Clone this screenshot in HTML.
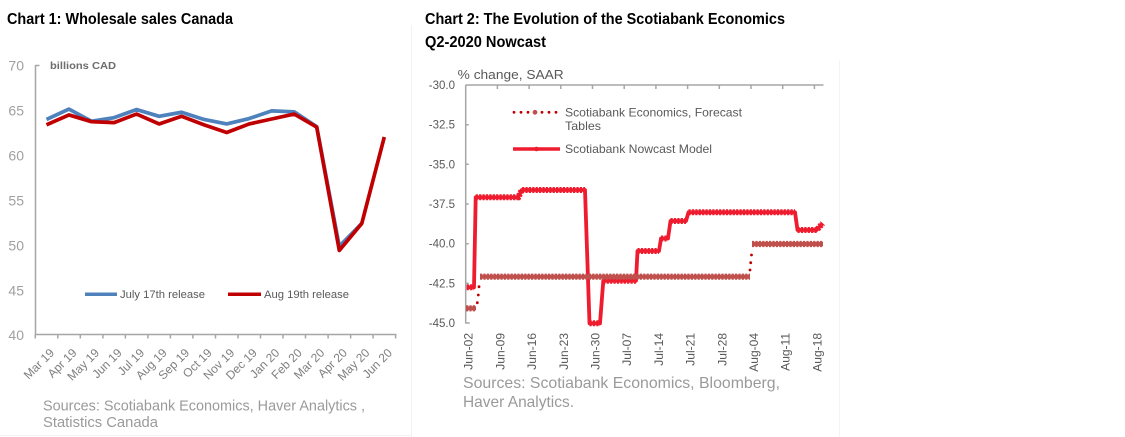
<!DOCTYPE html>
<html><head><meta charset="utf-8"><style>
html,body{margin:0;padding:0;background:#fff;}
svg{display:block;}
text{font-family:"Liberation Sans",Arial,sans-serif;}
</style></head><body>
<svg width="1125" height="437" viewBox="0 0 1125 437" xmlns="http://www.w3.org/2000/svg">
<rect width="1125" height="437" fill="#fff"/>
<!-- faint dividers -->
<line x1="411.5" y1="25" x2="411.5" y2="437" stroke="#f2f2f2" stroke-width="1"/>
<line x1="839.5" y1="60" x2="839.5" y2="437" stroke="#f4f4f4" stroke-width="1"/>
<line x1="0" y1="435.5" x2="411" y2="435.5" stroke="#f2f2f2" stroke-width="1"/>

<!-- ================= CHART 1 ================= -->
<text x="7" y="24" font-size="16" font-weight="bold" fill="#000" textLength="226" lengthAdjust="spacingAndGlyphs">Chart 1: Wholesale sales Canada</text>
<text x="50" y="69" font-size="10" font-weight="bold" fill="#6d6d6d" textLength="66" lengthAdjust="spacingAndGlyphs">billions CAD</text>

<!-- y labels -->
<g font-size="14" fill="#a0a0a0" text-anchor="end">
<text x="24" y="70.5">70</text>
<text x="24" y="115.5">65</text>
<text x="24" y="160.5">60</text>
<text x="24" y="205.5">55</text>
<text x="24" y="250.5">50</text>
<text x="24" y="295.5">45</text>
<text x="24" y="340">40</text>
</g>
<!-- axes -->
<g stroke="#a6a6a6" stroke-width="1.5" fill="none">
<line x1="35.5" y1="65" x2="35.5" y2="335"/>
<line x1="35.5" y1="65.5" x2="39.5" y2="65.5"/>
<line x1="35" y1="334.5" x2="396.5" y2="334.5"/>
<path d="M35.3,334.5v4 M57.8,334.5v4 M80.3,334.5v4 M102.9,334.5v4 M125.4,334.5v4 M147.9,334.5v4 M170.4,334.5v4 M192.9,334.5v4 M215.5,334.5v4 M238,334.5v4 M260.5,334.5v4 M283,334.5v4 M305.5,334.5v4 M328.1,334.5v4 M350.6,334.5v4 M373.1,334.5v4 M395.6,334.5v4"/>
</g>
<!-- x labels -->
<g font-size="12" fill="#7f7f7f" text-anchor="end">
<text transform="translate(55,353.5) rotate(-45)">Mar 19</text>
<text transform="translate(77.5,353.5) rotate(-45)">Apr 19</text>
<text transform="translate(100,353.5) rotate(-45)">May 19</text>
<text transform="translate(122.6,353.5) rotate(-45)">Jun 19</text>
<text transform="translate(145.1,353.5) rotate(-45)">Jul 19</text>
<text transform="translate(167.6,353.5) rotate(-45)">Aug 19</text>
<text transform="translate(190.1,353.5) rotate(-45)">Sep 19</text>
<text transform="translate(212.6,353.5) rotate(-45)">Oct 19</text>
<text transform="translate(235.2,353.5) rotate(-45)">Nov 19</text>
<text transform="translate(257.7,353.5) rotate(-45)">Dec 19</text>
<text transform="translate(280.2,353.5) rotate(-45)">Jan 20</text>
<text transform="translate(302.7,353.5) rotate(-45)">Feb 20</text>
<text transform="translate(325.2,353.5) rotate(-45)">Mar 20</text>
<text transform="translate(347.8,353.5) rotate(-45)">Apr 20</text>
<text transform="translate(370.3,353.5) rotate(-45)">May 20</text>
<text transform="translate(392.8,353.5) rotate(-45)">Jun 20</text>
</g>
<!-- series -->
<polyline fill="none" stroke="#4f81bd" stroke-width="3.7" stroke-linejoin="round" points="46.5,119.45 69,109.1 91.5,121.25 114.1,117.65 136.6,109.55 159.1,116.3 181.6,112.25 204.1,119.45 226.7,123.95 249.2,118.55 271.7,110.9 294.2,111.8 316.7,126.65 339.3,246.35 361.8,223.4"/>
<polyline fill="none" stroke="#c00000" stroke-width="3.7" stroke-linejoin="round" points="46.5,124.85 69,114.95 91.5,121.7 114.1,122.6 136.6,114.05 159.1,123.95 181.6,116.3 204.1,124.85 226.7,132.5 249.2,123.95 271.7,119 294.2,114.05 316.7,127.1 339.3,250.4 361.8,223.4 384.3,137"/>
<!-- legend -->
<line x1="85" y1="294.3" x2="117" y2="294.3" stroke="#4f81bd" stroke-width="3.5"/>
<text x="120" y="298" font-size="11" fill="#595959" textLength="85" lengthAdjust="spacingAndGlyphs">July 17th release</text>
<line x1="228" y1="294.3" x2="261" y2="294.3" stroke="#c00000" stroke-width="3.5"/>
<text x="264" y="298" font-size="11" fill="#595959" textLength="85" lengthAdjust="spacingAndGlyphs">Aug 19th release</text>
<!-- sources -->
<text x="43" y="410.5" font-size="15" fill="#9a9a9a" textLength="322" lengthAdjust="spacingAndGlyphs">Sources: Scotiabank Economics, Haver Analytics ,</text>
<text x="43" y="427" font-size="15" fill="#9a9a9a" textLength="115" lengthAdjust="spacingAndGlyphs">Statistics Canada</text>

<!-- ================= CHART 2 ================= -->
<text x="425" y="24" font-size="16" font-weight="bold" fill="#000" textLength="360" lengthAdjust="spacingAndGlyphs">Chart 2: The Evolution of the Scotiabank Economics</text>
<text x="425" y="47" font-size="16" font-weight="bold" fill="#000" textLength="121" lengthAdjust="spacingAndGlyphs">Q2-2020 Nowcast</text>
<text x="457.7" y="79" font-size="13" fill="#595959" textLength="106" lengthAdjust="spacingAndGlyphs">% change, SAAR</text>

<!-- y labels -->
<g font-size="11.5" fill="#595959" text-anchor="end">
<text x="455" y="89">-30.0</text>
<text x="455" y="128.7">-32.5</text>
<text x="455" y="168.3">-35.0</text>
<text x="455" y="208">-37.5</text>
<text x="455" y="247.7">-40.0</text>
<text x="455" y="287.3">-42.5</text>
<text x="455" y="327">-45.0</text>
</g>
<!-- axes -->
<g stroke="#a6a6a6" stroke-width="1.5" fill="none">
<line x1="465.7" y1="85" x2="465.7" y2="323.5"/>
<line x1="465.7" y1="85" x2="823.5" y2="85"/>
<path d="M465.7,124.7h3 M465.7,164.3h3 M465.7,204h3 M465.7,243.7h3 M465.7,283.3h3 M465.7,323h4"/>
<path d="M497.4,85v4 M529.1,85v4 M560.8,85v4 M592.5,85v4 M624.2,85v4 M655.9,85v4 M687.6,85v4 M719.3,85v4 M751,85v4 M782.7,85v4 M814.4,85v4"/>
</g>
<!-- x labels -->
<g font-size="12" fill="#595959" text-anchor="end">
<text transform="translate(472.7,333) rotate(-90)">Jun-02</text>
<text transform="translate(504.4,333) rotate(-90)">Jun-09</text>
<text transform="translate(536.1,333) rotate(-90)">Jun-16</text>
<text transform="translate(567.8,333) rotate(-90)">Jun-23</text>
<text transform="translate(599.5,333) rotate(-90)">Jun-30</text>
<text transform="translate(631.2,333) rotate(-90)">Jul-07</text>
<text transform="translate(662.9,333) rotate(-90)">Jul-14</text>
<text transform="translate(694.6,333) rotate(-90)">Jul-21</text>
<text transform="translate(726.3,333) rotate(-90)">Jul-28</text>
<text transform="translate(758,333) rotate(-90)">Aug-04</text>
<text transform="translate(789.7,333) rotate(-90)">Aug-11</text>
<text transform="translate(821.4,333) rotate(-90)">Aug-18</text>
</g>

<!-- nowcast series -->
<path d="M466.7,287.3 L474,287.3 L475.7,197.3 L518.3,197.3 L521.7,190 L585,190 L589.5,323.3 L600,323.3 L603.3,280.7 L636,280.7 L637.5,251 L659,251 L661,238.5 L668,238.5 L670.5,221 L686,221 L688.5,212.3 L795,212.3 L797.5,230 L816.7,230 L822.7,223.3" fill="none" stroke="#ee1c2e" stroke-width="3.8" stroke-linejoin="round"/>
<path d="M466.7,287.3 L474,287.3 M475.7,197.3 L518.3,197.3 L521.7,190 L585,190 M589.5,323.3 L600,323.3 M603.3,280.7 L636,280.7 M637.5,251 L659,251 M661,238.5 L668,238.5 M670.5,221 L686,221 M688.5,212.3 L795,212.3 M797.5,230 L816.7,230 L822.7,223.3" fill="none" stroke="#ee1c2e" stroke-width="6" stroke-dasharray="2.2 1.2"/>

<!-- forecast series -->
<g fill="none" stroke="#c0504d">
<path stroke-width="4.2" d="M466,308.3 H476 M480,276.7 H750 M752,244 H823"/>
<path stroke-width="6.2" stroke-dasharray="2.2 1.2" d="M466,308.3 H476 M480,276.7 H750 M752,244 H823"/>
</g>
<g fill="#c00000">
<circle cx="477.3" cy="302.7" r="1.4"/>
<circle cx="478.3" cy="295" r="1.4"/>
<circle cx="479" cy="286.7" r="1.4"/>
<circle cx="750" cy="270" r="1.4"/>
<circle cx="750.7" cy="262.7" r="1.4"/>
<circle cx="751.5" cy="255" r="1.4"/>
</g>

<!-- legend -->
<g fill="#c00000">
<circle cx="514" cy="112.3" r="1.4"/>
<circle cx="521" cy="112.3" r="1.4"/>
<circle cx="528" cy="112.3" r="1.4"/>
<circle cx="542" cy="112.3" r="1.4"/>
<circle cx="549" cy="112.3" r="1.4"/>
<circle cx="556" cy="112.3" r="1.4"/>
</g>
<circle cx="535" cy="112.3" r="2.4" fill="#c0504d"/>
<text x="565" y="116.5" font-size="12" fill="#595959" textLength="177" lengthAdjust="spacingAndGlyphs">Scotiabank Economics, Forecast</text>
<text x="565" y="130" font-size="12" fill="#595959" textLength="36" lengthAdjust="spacingAndGlyphs">Tables</text>
<line x1="513" y1="149" x2="560" y2="149" stroke="#ee1c2e" stroke-width="3.5"/>
<circle cx="536.5" cy="149" r="2.3" fill="#ee1c2e"/>
<text x="565" y="153" font-size="12" fill="#595959" textLength="147" lengthAdjust="spacingAndGlyphs">Scotiabank Nowcast Model</text>

<!-- sources -->
<text x="463" y="388" font-size="16" fill="#9a9a9a" textLength="317" lengthAdjust="spacingAndGlyphs">Sources: Scotiabank Economics, Bloomberg,</text>
<text x="463" y="407" font-size="16" fill="#9a9a9a" textLength="111" lengthAdjust="spacingAndGlyphs">Haver Analytics.</text>
</svg>
</body></html>
